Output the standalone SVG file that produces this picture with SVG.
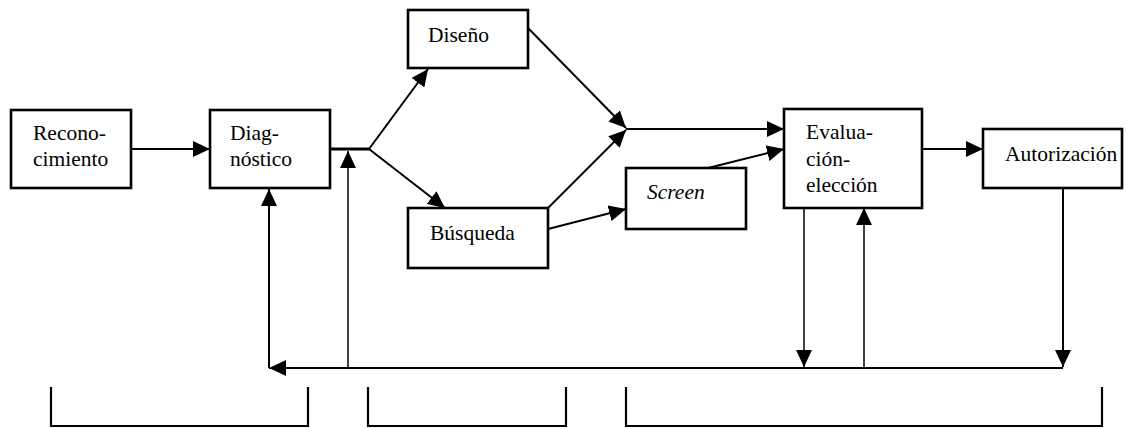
<svg xmlns="http://www.w3.org/2000/svg" width="1133" height="428" viewBox="0 0 1133 428">
  <style>
    .box { fill: #fff; stroke: #000; stroke-width: 2.6; }
    .lbl { font-family: 'Liberation Serif', 'DejaVu Serif', 'Times New Roman', serif; font-size: 21.5px; fill: #000; }
    .it { font-style: italic; }
    .ln { fill: none; stroke: #000; stroke-width: 2; }
    .thin { fill: none; stroke: #000; stroke-width: 1.5; }
    .thick { fill: none; stroke: #000; stroke-width: 3.2; }
    .arr { marker-end: url(#head); }
    .brk { fill: none; stroke: #000; stroke-width: 2.2; }
  </style>
  <defs>
    <marker id="head" markerUnits="userSpaceOnUse" markerWidth="18" markerHeight="16" viewBox="0 0 18 16" refX="17" refY="8" orient="auto">
      <path d="M0,0 L17,8 L0,16 Z" fill="#000"/>
    </marker>
  </defs>

  <rect width="1133" height="428" fill="#fff"/>

  <!-- connectors -->
  <g id="connectors">
    <line class="ln arr" x1="131" y1="149" x2="210" y2="149"/>
    <line class="thick" x1="330" y1="149" x2="369" y2="149"/>
    <line class="thin arr" x1="348" y1="368" x2="348" y2="151"/>
    <line class="ln arr" x1="369" y1="149" x2="428" y2="69"/>
    <line class="ln arr" x1="369" y1="149" x2="445" y2="208"/>
    <line class="ln arr" x1="528" y1="28" x2="626" y2="128"/>
    <line class="ln arr" x1="548" y1="208" x2="626" y2="130"/>
    <line class="ln arr" x1="626" y1="129" x2="784" y2="129"/>
    <line class="ln arr" x1="548" y1="229" x2="626" y2="209"/>
    <line class="ln arr" x1="708" y1="168" x2="784" y2="149"/>
    <line class="ln arr" x1="922" y1="149" x2="983" y2="149"/>
    <line class="ln arr" x1="1063" y1="189" x2="1063" y2="367"/>
    <line class="thin arr" x1="804" y1="208" x2="804" y2="367"/>
    <line class="thin arr" x1="864" y1="368" x2="864" y2="208"/>
    <line class="ln arr" x1="1063" y1="368" x2="269" y2="368"/>
    <line class="ln arr" x1="269" y1="368" x2="269" y2="189"/>
  </g>

  <!-- nodes -->
  <g id="reconocimiento">
    <rect class="box" x="11" y="110" width="120" height="78"/>
    <text class="lbl" x="33" y="140">Recono-</text>
    <text class="lbl" x="33" y="166">cimiento</text>
  </g>
  <g id="diagnostico">
    <rect class="box" x="210" y="110" width="120" height="78"/>
    <text class="lbl" x="230" y="140">Diag-</text>
    <text class="lbl" x="230" y="166">nóstico</text>
  </g>
  <g id="diseno">
    <rect class="box" x="408" y="10" width="120" height="58"/>
    <text class="lbl" x="428" y="42">Diseño</text>
  </g>
  <g id="busqueda">
    <rect class="box" x="408" y="208" width="140" height="60"/>
    <text class="lbl" x="430" y="240">Búsqueda</text>
  </g>
  <g id="screen">
    <rect class="box" x="626" y="168" width="120" height="61"/>
    <text class="lbl it" x="647" y="199">Screen</text>
  </g>
  <g id="evaluacion">
    <rect class="box" x="784" y="109" width="138" height="99"/>
    <text class="lbl" x="806" y="139">Evalua-</text>
    <text class="lbl" x="806" y="166">ción-</text>
    <text class="lbl" x="806" y="192">elección</text>
  </g>
  <g id="autorizacion">
    <rect class="box" x="983" y="129" width="139" height="59"/>
    <text class="lbl" x="1005" y="161">Autorización</text>
  </g>

  <!-- phase brackets -->
  <g id="brackets">
    <path class="brk" d="M51,387 V426 H308 V387"/>
    <path class="brk" d="M368,387 V426 H566 V387"/>
    <path class="brk" d="M626,387 V426 H1102 V387"/>
  </g>
</svg>
